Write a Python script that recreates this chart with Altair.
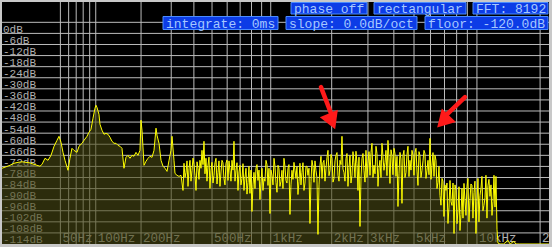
import altair as alt
import pandas as pd

# ---------------- spectrum readings (frequency in Hz, level in dB) ----------------
freq_low_hz = [0, 2.5, 5.1, 7.8, 10.7, 13.7, 16.8, 20.1, 23.5, 26.1,
               28.8, 30.7, 33.6, 36.6, 39.7, 42.9, 46.1, 48.4, 50.7, 53.1,
               55.5, 59.2, 61.7, 64.3, 67.0, 71.1, 73.9, 78.3, 81.2, 85.8,
               88.9, 92.1, 95.4, 98.7, 100.4, 102.1, 105.6, 107.4, 111.0, 114.7,
               118.5, 122.4, 126.3, 130.3, 134.5, 138.7, 143.0, 147.3, 151.8, 156.4,
               161.1, 165.9, 170.8, 175.8, 180.9, 186.2, 191.5, 197.0, 199.8, 202.6,
               208.4, 214.2, 220.2, 226.3, 232.5, 238.9, 245.4, 248.7, 255.5, 262.4,
               269.4, 276.6, 284.0, 291.5, 299.1, 303.0, 310.9, 314.9, 323.1, 331.5,
               340.1, 348.9]
level_low_db = [-79.0, -78.2, -77.4, -76.3, -75.8, -75.5, -75.8, -76.1, -76.9, -77.4,
                -77.9, -76.9, -73.6, -74.7, -72.0, -67.1, -63.9, -61.7, -64.9, -70.4,
                -74.7, -80.1, -73.6, -68.2, -69.3, -70.4, -67.1, -65.5, -63.9, -61.7,
                -59.5, -57.9, -51.9, -46.5, -44.9, -46.0, -49.8, -55.2, -58.4, -60.6,
                -60.1, -60.6, -62.2, -64.4, -65.5, -65.5, -66.6, -67.1, -68.2, -79.0,
                -73.1, -72.0, -73.6, -72.0, -72.5, -70.4, -72.0, -69.3, -53.0, -58.4,
                -77.4, -75.2, -73.6, -72.5, -73.1, -69.3, -57.3, -61.1, -65.5, -74.7,
                -77.9, -79.0, -80.7, -74.7, -69.3, -61.7, -74.7, -81.8, -82.8, -83.4,
                -82.8, -91.0]

freq_high_hz = [353.3, 362.4, 371.6, 381.1, 390.7, 400.6, 410.7, 421.0, 431.4, 442.2,
                453.2, 464.4, 475.9, 487.7, 499.8, 512.0, 524.6, 537.4, 550.4, 563.8,
                577.5, 591.5, 605.9, 620.5, 635.5, 650.8, 666.4, 682.4, 698.7, 715.4,
                732.4, 749.9, 767.6, 785.7, 804.3, 823.4, 842.8, 862.7, 883.0, 903.8,
                925.0, 946.7, 968.9, 991.6, 1014.7, 1038.4, 1062.6, 1087.3, 1112.2, 1138.0,
                1164.4, 1191.3, 1218.9, 1247.1, 1275.9, 1305.4, 1335.4, 1366.2, 1397.8, 1429.9,
                1462.7, 1496.3, 1530.6, 1565.8, 1601.6, 1638.2, 1675.7, 1713.9, 1753.4, 1793.3,
                1834.2, 1876.0, 1918.7, 1962.2, 2006.8, 2052.4, 2099.0, 2146.6, 2195.2, 2244.9,
                2295.8, 2347.7, 2400.9, 2455.0, 2510.5, 2567.3, 2625.2, 2684.5, 2745.1, 2807.0,
                2870.3, 2935.0, 3001.0, 3068.8, 3137.8, 3208.5, 3280.6, 3354.3, 3428.9, 3505.9,
                3584.6, 3665.1, 3747.3, 3832.1, 3918.0, 4005.8, 4095.6, 4187.3, 4280.6, 4376.5,
                4474.5, 4574.6, 4676.9, 4781.8, 4888.7, 4998.0, 5109.7, 5223.9, 5340.2, 5459.4,
                5581.5, 5705.8, 5833.0, 5964.0, 6097.3, 6233.4, 6372.2, 6514.5, 6658.4, 6806.8,
                6958.6, 7113.7, 7272.2, 7436.8, 7602.6, 7771.7, 7944.7, 8121.7, 8299.2, 8484.0,
                8672.7, 8865.4, 9062.5, 9262.4, 9468.5, 9679.0, 9894.1, 10114, 10338, 10567,
                10802, 11042, 11287, 11542, 11798, 12060, 12328, 12602]
level_high_db = [-76.3, -81.2, -88.8, -74.7, -80.1, -76.9, -91.0, -79.0, -74.7, -69.3,
                 -64.4, -73.6, -77.4, -89.9, -75.8, -82.8, -73.6, -81.2, -88.8, -74.7,
                 -84.5, -76.3, -85.6, -80.1, -74.7, -64.4, -80.1, -91.0, -77.4, -84.5,
                 -91.0, -79.0, -86.6, -92.6, -102.4, -81.2, -79.0, -85.6, -95.9, -79.0,
                 -84.5, -74.7, -88.3, -103.5, -82.8, -73.6, -86.6, -77.4, -88.8, -80.1,
                 -73.6, -85.6, -79.0, -104.0, -80.1, -75.8, -84.5, -93.2, -76.3, -81.2,
                 -91.0, -77.9, -82.8, -108.9, -74.7, -86.6, -80.1, -114.8, -77.4, -84.5,
                 -74.7, -79.0, -69.3, -80.1, -73.6, -84.5, -72.0, -82.8, -74.7, -61.7,
                 -81.2, -73.6, -88.8, -72.0, -82.8, -75.8, -69.8, -91.0, -110.5, -73.6,
                 -80.1, -69.3, -76.3, -82.8, -65.5, -77.4, -67.1, -88.8, -74.7, -65.5,
                 -80.1, -69.3, -63.9, -87.2, -72.0, -68.2, -83.4, -99.7, -70.4, -98.0,
                 -69.3, -81.2, -67.1, -74.7, -69.3, -82.8, -68.2, -88.3, -72.0, -80.1,
                 -69.3, -84.5, -74.7, -62.8, -77.4, -83.4, -74.7, -86.6, -93.7, -84.5,
                 -105.1, -91.0, -108.9, -85.6, -99.1, -114.3, -91.0, -101.8, -112.7, -89.9,
                 -87.2, -104.5, -84.5, -96.4, -88.3, -92.1, -114.3, -84.5, -93.7, -83.4,
                 -99.1, -82.8, -88.3, -94.2, -104.5, -82.8, -83.4, -119.5]

# in-between bins of the dense (noisy) part of the spectrum
freq_mid_hz = [357.9, 367.0, 376.4, 385.9, 395.7, 405.7, 415.9, 426.2, 436.8, 447.7,
               458.8, 470.2, 481.8, 493.8, 505.9, 518.3, 531.0, 543.9, 557.1, 570.7,
               584.5, 598.7, 613.2, 628.0, 643.2, 658.6, 674.4, 690.6, 707.1, 723.9,
               741.2, 758.8, 776.7, 795.0, 813.9, 833.1, 852.8, 872.9, 893.4, 914.4,
               935.9, 957.8, 980.3, 1003.2, 1026.6, 1050.5, 1075.0, 1099.8, 1125.1, 1151.2,
               1177.9, 1205.1, 1233.0, 1261.5, 1290.7, 1320.4, 1350.8, 1382.0, 1413.9, 1446.3,
               1479.5, 1513.5, 1548.2, 1583.7, 1619.9, 1657.0, 1694.8, 1733.7,
               1773.4, 1813.8, 1855.1, 1897.4, 1940.5, 1984.5, 2029.6, 2075.7, 2122.8, 2170.9,
               2220.1, 2270.4, 2321.8, 2374.3, 2428.0, 2482.8, 2538.9, 2596.3, 2654.9, 2714.8,
               2776.1, 2838.7, 2902.7, 2968.0, 3034.9, 3103.3, 3173.2, 3244.6, 3317.5, 3391.6,
               3467.4, 3545.3, 3624.9, 3706.2, 3789.7, 3875.1, 3961.9, 4050.7, 4141.5, 4234.0,
               4328.6, 4425.5, 4524.6, 4625.8, 4729.4, 4835.3, 4943.4, 5053.9, 5166.8, 5282.1,
               5399.8, 5520.5, 5643.7, 5769.4, 5898.5, 6030.7, 6165.4, 6302.8, 6443.4, 6586.5,
               6732.6, 6882.7, 7036.2, 7193.0, 7354.5, 7519.7, 7687.2, 7858.2, 8033.2, 8210.5,
               8391.6, 8578.4, 8769.1, 8964.0, 9162.5, 9365.5, 9573.8, 9786.6, 10004, 10226,
               10453, 10685, 10922, 11165, 11415, 11670, 11929, 12194, 12465]
level_mid_db = [-84.0, -75.0, -79.0, -86.0, -73.5, -83.0, -75.5, -85.0, -79.0, -77.0,
                -82.0, -86.0, -73.0, -80.0, -87.0, -76.0, -87.5, -75.0, -81.0, -76.0,
                -88.0, -74.5, -75.0, -86.0, -80.0, -86.0, -76.0, -81.0, -88.0, -76.5,
                -84.0, -93.0, -78.0, -80.0, -88.0, -90.0, -77.0, -80.0, -86.0, -91.0,
                -86.0, -77.0, -79.0, -80.0, -88.0, -78.0, -92.0, -79.0, -86.0, -90.0,
                -78.0, -87.0, -77.0, -88.0, -85.0, -80.0, -78.0, -86.0, -88.0, -76.0,
                -87.0, -78.0, -79.0, -86.0, -78.0, -75.0, -84.0, -88.0,
                -72.5, -76.0, -86.0, -73.0, -83.0, -71.5, -86.5, -75.0, -70.5, -86.0,
                -77.0, -79.5, -86.0, -71.0, -78.5, -87.0, -70.0, -84.0, -76.5, -73.0,
                -84.0, -71.0, -86.5, -84.0, -70.0, -70.5, -84.0, -82.0, -71.0, -79.0,
                -84.0, -72.5, -76.0, -83.0, -73.0, -69.0, -82.5, -71.0, -72.5, -82.0,
                -74.0, -72.0, -84.0, -71.5, -83.5, -80.0, -72.0, -70.5, -80.5, -70.0,
                -84.0, -75.0, -71.0, -80.0, -82.5, -85.0, -70.5, -72.0, -90.0, -78.0,
                -99.0, -86.0, -88.0, -87.0, -100.0, -97.0, -87.0, -88.0, -109.0, -89.0,
                -104.0, -106.0, -96.0, -89.0, -108.0, -87.5, -106.0, -86.0, -97.0, -108.0,
                -90.0, -102.0, -95.0, -106.0, -85.0, -88.0, -97.0, -100.0, -112.0]

freq_floor_hz = [12880, 13400, 14062, 14400, 15000, 15351, 16000, 22050]
level_floor_db = [-120, -120, -118.0, -120, -118.5, -120, -120, -120]

# ---------------- grid / labels ----------------
grid_freq_hz = [50, 60, 70, 80, 90, 100, 200, 300, 400, 500, 600, 700, 800, 900,
                1000, 2000, 3000, 4000, 5000, 6000, 7000, 8000, 9000, 10000, 20000]
grid_db = [0, -6, -12, -18, -24, -30, -36, -42, -48, -54, -60, -66, -72, -78,
           -84, -90, -96, -102, -108, -114]
db_labels = ["0dB", "-6dB", "-12dB", "-18dB", "-24dB", "-30dB", "-36dB", "-42dB",
             "-48dB", "-54dB", "-60dB", "-66dB", "-72dB", "-78dB", "-84dB", "-90dB",
             "-96dB", "-102dB", "-108dB", "-114dB"]
freq_tick_hz = [50, 100, 200, 500, 1000, 2000, 3000, 5000, 10000, 20000]
freq_tick_labels = ["50Hz", "100Hz", "200Hz", "500Hz", "1kHz", "2kHz", "3kHz",
                    "5kHz", "10kHz", "20kHz"]

status_texts = ["phase off", "rectangular", "FFT: 8192",
                "integrate: 0ms", "slope: 0.0dB/oct", "floor: -120.0dB"]

# annotation arrows (data coordinates)
arrow_tail_hz = [1773, 8770]
arrow_tail_db = [-35.1, -40.5]
arrow_end_hz = [1984, 7190]
arrow_end_db = [-49.2, -49.8]
arrow_head_hz = [2007, 6883]
arrow_head_db = [-53.6, -53.6]

# ---------------- layout (pixels, styles) ----------------
box_x1 = [289, 372, 471, 161, 284, 423]
box_x2 = [365, 464, 546, 276, 415, 546]
box_y1 = [0.5, 0.5, 0.5, 14.5, 14.5, 14.5]
box_y2 = [12, 12, 12, 27.5, 27.5, 27.5]
arrow_angle = [158, 224]

FONT = "Liberation Mono"

spec = pd.DataFrame({
    "f": freq_low_hz + freq_high_hz + freq_mid_hz + freq_floor_hz,
    "db": level_low_db + level_high_db + level_mid_db + level_floor_db,
}).sort_values("f").reset_index(drop=True)
gridx = pd.DataFrame({"f": grid_freq_hz})
gridy = pd.DataFrame({"db": grid_db, "label": db_labels})
ticks = pd.DataFrame({"f": freq_tick_hz, "label": freq_tick_labels})
boxes = pd.DataFrame({"text": status_texts, "x1": box_x1, "x2": box_x2,
                      "y1": box_y1, "y2": box_y2})
arrows = pd.DataFrame({"tf": arrow_tail_hz, "tdb": arrow_tail_db,
                       "ef": arrow_end_hz, "edb": arrow_end_db,
                       "hf": arrow_head_hz, "hdb": arrow_head_db,
                       "ang": arrow_angle})

xs = alt.Scale(type="symlog", constant=56, domain=[0, 22050], nice=False, zero=False)
ys = alt.Scale(domain=[-120, 11], nice=False, zero=False)

vgrid = alt.Chart(gridx).mark_rule(color="#bcbcbc", strokeWidth=1).encode(
    x=alt.X("f:Q", scale=xs, axis=None))
hgrid = alt.Chart(gridy).mark_rule(color="#bcbcbc", strokeWidth=1).encode(
    y=alt.Y("db:Q", scale=ys, axis=None))

dbtext = alt.Chart(gridy).mark_text(
    align="left", baseline="top", font=FONT, fontSize=11, color="#b0b0b0", dy=1.5
).encode(x=alt.value(1), y=alt.Y("db:Q", scale=ys, axis=None), text="label:N")

ftext = alt.Chart(ticks).mark_text(
    align="left", baseline="alphabetic", font=FONT, fontSize=12.5, color="#b0b0b0",
    dx=2, clip=True
).encode(x=alt.X("f:Q", scale=xs, axis=None), y=alt.value(240), text="label:N")

area = alt.Chart(spec).mark_area(color="#4a4a14", opacity=0.6, clip=True).encode(
    x=alt.X("f:Q", scale=xs, axis=None),
    y=alt.Y("db:Q", scale=ys, axis=None),
    y2=alt.datum(-120))

line = alt.Chart(spec).mark_line(color="#ffff00", strokeWidth=1, clip=True).encode(
    x=alt.X("f:Q", scale=xs, axis=None),
    y=alt.Y("db:Q", scale=ys, axis=None))

brect = alt.Chart(boxes).mark_rect(fill="#0c3ce6", stroke="#4a8cff", strokeWidth=1).encode(
    x=alt.X("x1:Q", scale=None, axis=None), x2="x2:Q",
    y=alt.Y("y1:Q", scale=None, axis=None), y2="y2:Q")
btext = alt.Chart(boxes).transform_calculate(
    tx="datum.x1 + 3", ty="(datum.y1 + datum.y2) / 2 + 0.5"
).mark_text(align="left", baseline="middle", font=FONT, fontSize=13, color="#a6c8ff").encode(
    x=alt.X("tx:Q", scale=None, axis=None), y=alt.Y("ty:Q", scale=None, axis=None),
    text="text:N")

shaft = alt.Chart(arrows).mark_rule(color="#ff1a1a", strokeWidth=4.5, strokeCap="round").encode(
    x=alt.X("tf:Q", scale=xs, axis=None), x2="ef:Q",
    y=alt.Y("tdb:Q", scale=ys, axis=None), y2="edb:Q")
head = alt.Chart(arrows).mark_point(shape="triangle-up", filled=True, size=380,
                                    color="#ff1a1a", opacity=1).encode(
    x=alt.X("hf:Q", scale=xs, axis=None),
    y=alt.Y("hdb:Q", scale=ys, axis=None),
    angle=alt.Angle("ang:Q", scale=None))

chart = alt.layer(vgrid, hgrid, dbtext, ftext, area, line, brect, btext, shaft, head).properties(
    width=547, height=242, background="#c8c8c8",
    padding={"left": 2, "top": 2, "right": 3, "bottom": 3},
    autosize=alt.AutoSizeParams(type="none"),
).configure_view(fill="black", strokeWidth=0)

chart.save("out.html", embed_options={"renderer": "svg", "actions": False})
